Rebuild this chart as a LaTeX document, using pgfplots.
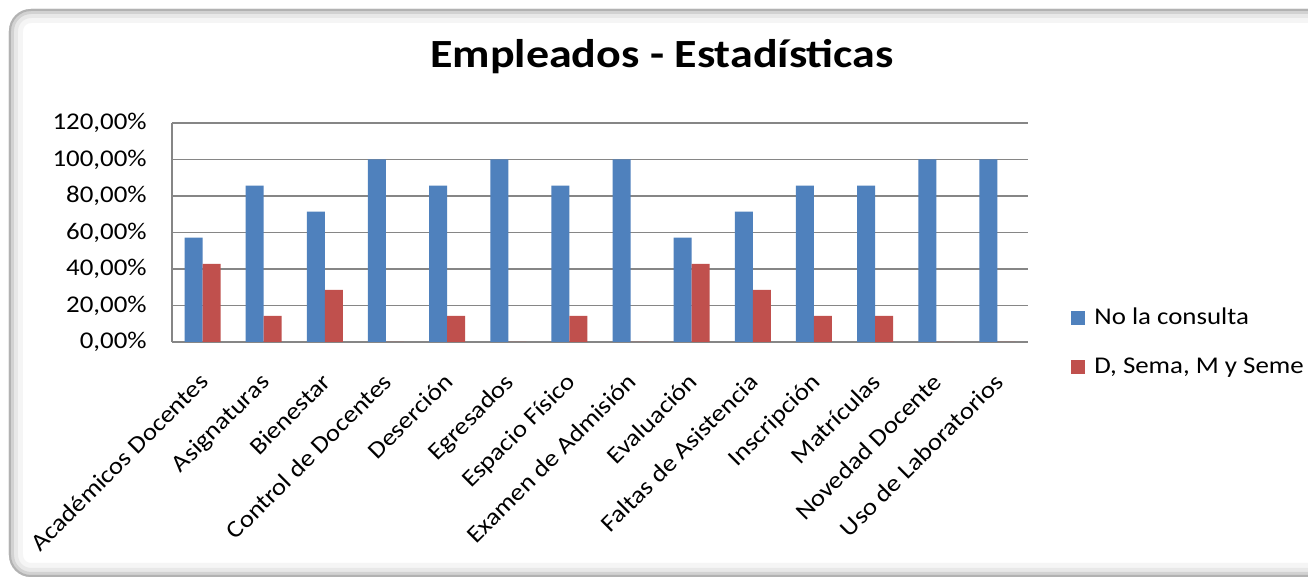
\documentclass[border=0pt]{standalone}
\usepackage{pgfplots}
\pgfplotsset{compat=1.18}
\usepackage{fontspec}
\setmainfont{Carlito}[FakeStretch=1.12]
\newfontfamily\titlefont{Carlito}[FakeStretch=1.15]

\definecolor{xlblue}{HTML}{4F81BD}
\definecolor{xlred}{HTML}{C0504D}
\definecolor{gridgray}{HTML}{868686}

\begin{document}
\begin{tikzpicture}
\useasboundingbox (-86pt,-120pt) rectangle (568pt,171pt);
% chart frame with soft inner shading
\fill[white] (-86pt,-120pt) rectangle (568pt,171pt);
\begin{scope}
  \clip[rounded corners=11pt] (-81.5pt,-117.5pt) rectangle (580pt,166.5pt);
  \draw[gray!8, line width=14pt, rounded corners=11pt] (-81.5pt,-117.5pt) rectangle (580pt,166.5pt);
  \draw[gray!18, line width=9pt, rounded corners=11pt] (-81.5pt,-117.5pt) rectangle (580pt,166.5pt);
  \draw[gray!35, line width=5pt, rounded corners=11pt] (-81.5pt,-117.5pt) rectangle (580pt,166.5pt);
  \draw[gray!60, line width=2pt, rounded corners=11pt] (-81.5pt,-117.5pt) rectangle (580pt,166.5pt);
\end{scope}

\node[anchor=base] at (245pt,137pt) {\titlefont\fontsize{20}{24}\selectfont\bfseries Empleados - Estadísticas};

\begin{axis}[
  at={(0pt,0pt)}, anchor=south west,
  scale only axis, width=428pt, height=109.5pt,
  ybar=0pt, bar width=9pt,
  xmin=-0.5, xmax=13.5, ymin=0, ymax=120,
  ytick={0,20,40,60,80,100,120},
  yticklabels={{0,00\%},{20,00\%},{40,00\%},{60,00\%},{80,00\%},{100,00\%},{120,00\%}},
  xtick={0,...,13},
  xticklabels={Académicos Docentes, Asignaturas, Bienestar, Control de Docentes,
    Deserción, Egresados, Espacio Físico, Examen de Admisión, Evaluación,
    Faltas de Asistencia, Inscripción, Matrículas, Novedad Docente, Uso de Laboratorios},
  major tick length=0pt,
  axis x line*=bottom, axis y line*=left,
  axis line style={gridgray, line width=0.6pt, -},
  ymajorgrids, grid style={gridgray, line width=0.6pt},
  tick label style={font=\fontsize{12}{14}\selectfont, black},
  yticklabel style={anchor=east, inner sep=0pt, xshift=-12.5pt},
  % shifts act in the rotated frame of the label
  xticklabel style={rotate=45, anchor=north east, inner sep=0pt,
    text height=9pt, text depth=3pt, xshift=-12pt, yshift=-8pt},
  legend style={at={(1,0)}, anchor=west, xshift=21.5pt, yshift=-0.5pt,
    draw=none, fill=none, inner sep=0pt, row sep=12.5pt,
    font=\fontsize{12}{14}\selectfont,
    nodes={inner sep=0pt, text height=9pt, text depth=3pt},
    /tikz/every odd column/.append style={column sep=4.5pt}},
  legend cell align=left,
  legend image code/.code={\fill[#1] (0pt,-3.5pt) rectangle (7pt,3.5pt);},
]
\addplot[fill=xlblue, draw=none] coordinates {
  (0,57.14) (1,85.71) (2,71.43) (3,100) (4,85.71) (5,100) (6,85.71)
  (7,100) (8,57.14) (9,71.43) (10,85.71) (11,85.71) (12,100) (13,100)};
\addlegendentry{No la consulta}
\addplot[fill=xlred, draw=none] coordinates {
  (0,42.86) (1,14.29) (2,28.57) (3,0) (4,14.29) (5,0) (6,14.29)
  (7,0) (8,42.86) (9,28.57) (10,14.29) (11,14.29) (12,0) (13,0)};
\addlegendentry{D, Sema, M y Seme}
\end{axis}
\end{tikzpicture}
\end{document}
